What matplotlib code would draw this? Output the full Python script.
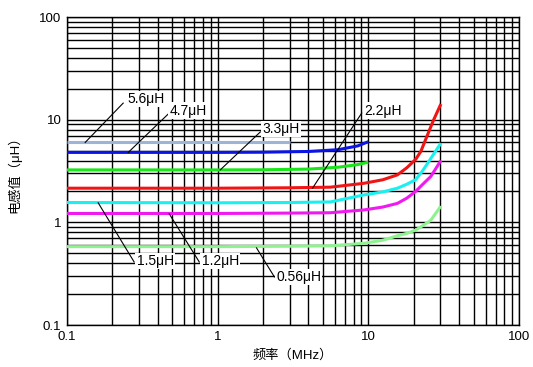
import matplotlib
matplotlib.use("Agg")
import matplotlib.pyplot as plt
from matplotlib.ticker import LogLocator, NullFormatter, FixedLocator, FixedFormatter

plt.rcParams['font.family'] = ['Liberation Sans', 'Noto Sans CJK SC', 'DejaVu Sans']

# Data (frequency in MHz, inductance in uH)
f_56 = [0.1, 0.5, 1, 2, 3.0]
L_56 = [6.0, 6.0, 6.0, 6.0, 6.0]

f_47 = [0.1, 0.5, 1, 2, 4, 6.3, 8.5, 10]
L_47 = [4.8, 4.8, 4.8, 4.82, 4.9, 5.1, 5.55, 6.1]

f_33 = [0.1, 0.5, 1, 2, 4, 6.3, 8.5, 10]
L_33 = [3.24, 3.24, 3.24, 3.25, 3.3, 3.44, 3.65, 3.85]

f_22 = [0.1, 1, 3, 5.6, 9.35, 12.5, 15.6, 18, 20.6, 22.3, 24.7, 27, 30.3]
L_22 = [2.15, 2.15, 2.17, 2.2, 2.4, 2.6, 2.9, 3.4, 4.1, 4.9, 7.1, 9.8, 14.2]

f_15 = [0.1, 1, 3, 5.6, 9.35, 12.5, 15.6, 18, 20.6, 23, 26, 30.3]
L_15 = [1.56, 1.55, 1.56, 1.58, 1.85, 1.98, 2.15, 2.35, 2.6, 3.2, 4.2, 5.9]

f_12 = [0.1, 1, 3, 5.6, 9.35, 12.5, 15.6, 18, 20.6, 23, 26, 30.3]
L_12 = [1.22, 1.22, 1.23, 1.24, 1.32, 1.41, 1.53, 1.72, 2.0, 2.35, 2.8, 4.0]

f_056 = [0.1, 1, 3, 5.6, 9.35, 12.5, 15.6, 18, 20.6, 23, 26, 30.3]
L_056 = [0.58, 0.58, 0.585, 0.59, 0.625, 0.67, 0.74, 0.78, 0.84, 0.93, 1.05, 1.44]

series = [
    (f_56, L_56, '#9db3d8'),
    (f_47, L_47, '#0a14e6'),
    (f_33, L_33, '#19e619'),
    (f_22, L_22, '#f01414'),
    (f_15, L_15, '#19f0f0'),
    (f_12, L_12, '#f019f0'),
    (f_056, L_056, '#8ef28e'),
]

# labels: text, text position (f, L), leader start, leader end
labels = ['5.6μH', '4.7μH', '3.3μH', '2.2μH', '1.5μH', '1.2μH', '0.56μH']
label_pos = [(0.336, 15.9), (0.638, 12.2), (2.65, 8.1), (12.6, 12.2),
             (0.385, 0.421), (1.04, 0.421), (3.44, 0.294)]
lead_a = [(0.236, 14.5), (0.477, 11.6), (1.92, 7.6), (9.04, 11.6),
          (0.161, 1.55), (0.477, 1.21), (1.81, 0.564)]
lead_b = [(0.132, 6.0), (0.255, 4.8), (1.04, 3.24), (4.27, 2.16),
          (0.279, 0.411), (0.755, 0.411), (2.38, 0.294)]

ticks = [0.1, 1, 10, 100]
tick_labels = ['0.1', '1', '10', '100']

fig = plt.figure(figsize=(5.33, 3.67), dpi=100)
ax = fig.add_axes([67/533, 1-325/367, 452/533, 308/367])
ax.set_xscale('log')
ax.set_yscale('log')
ax.set_xlim(0.1, 100)
ax.set_ylim(0.1, 100)

ax.xaxis.set_major_locator(FixedLocator(ticks))
ax.xaxis.set_major_formatter(FixedFormatter(tick_labels))
ax.yaxis.set_major_locator(FixedLocator(ticks))
ax.yaxis.set_major_formatter(FixedFormatter(tick_labels))
ax.xaxis.set_minor_locator(LogLocator(base=10, subs=range(2, 10)))
ax.yaxis.set_minor_locator(LogLocator(base=10, subs=range(2, 10)))
ax.xaxis.set_minor_formatter(NullFormatter())
ax.yaxis.set_minor_formatter(NullFormatter())
ax.set_axisbelow(True)
ax.grid(True, which='both', color='black', linewidth=1.0)
ax.tick_params(which='both', length=0, labelsize=9.5, pad=4)
for s in ax.spines.values():
    s.set_color('black')
    s.set_linewidth(1.0)

for f, L, c in series:
    ax.plot(f, L, color=c, linewidth=2.2, zorder=3, solid_capstyle='butt')

for t, p, a, b in zip(labels, label_pos, lead_a, lead_b):
    ax.plot([a[0], b[0]], [a[1], b[1]], color='black', linewidth=0.8, zorder=4)
    ax.text(p[0], p[1], t, ha='center', va='center', fontsize=10, zorder=5,
            bbox=dict(facecolor='white', edgecolor='none', pad=1.0))

ax.set_xlabel('频率（MHz）', fontsize=9.5, labelpad=5)
ax.set_ylabel('电感值（μH）', fontsize=9.5, labelpad=13)

fig.savefig('out.png', dpi=100)
